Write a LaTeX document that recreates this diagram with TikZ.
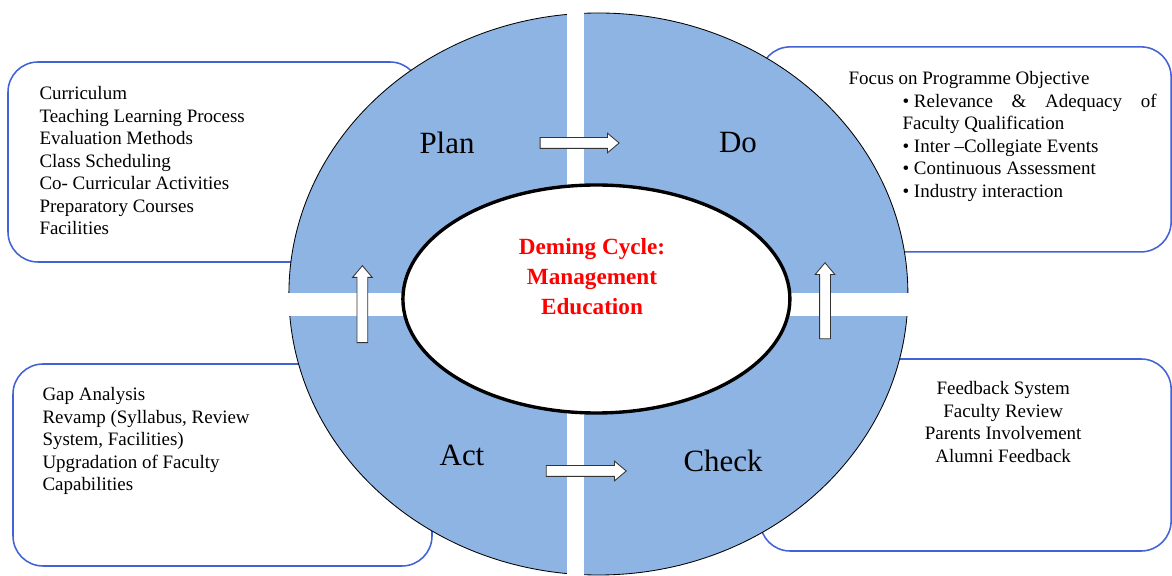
\documentclass[tikz,border=0pt]{standalone}
\usepackage{fontspec}
\setmainfont{Liberation Serif}
\usetikzlibrary{positioning, shapes.geometric, shapes.arrows}
\definecolor{ringBlue}{RGB}{142,180,227}
\definecolor{boxBlue}{RGB}{66,98,214}
\definecolor{titleRed}{RGB}{255,0,0}

\begin{document}
\begin{tikzpicture}[
  notebox/.style={draw=boxBlue, line width=1.1pt, fill=white, rounded corners=.75cm},
  notetext/.style={inner sep=0pt, align=left, font=\fontsize{13.5}{16}\selectfont},
  phaselabel/.style={font=\fontsize{22}{26}\selectfont},
  flow/.style={single arrow, draw=black!80, fill=white, line width=.6pt,
               inner xsep=0pt, inner ysep=.125cm, single arrow head extend=.11cm,
               single arrow tip angle=80},
]
  \useasboundingbox (0,0) rectangle (29.3,14.375);

  % note boxes, partly hidden by the ring
  \node[notebox, minimum width=10.3cm, minimum height=5cm] (planbox) at (5.35,10.325) {};
  \node[notebox, minimum width=10.275cm, minimum height=5.125cm] (dobox) at (24.14,10.64) {};
  \node[notebox, minimum width=10.475cm, minimum height=5.05cm] (actbox) at (5.5625,2.75) {};
  \node[notebox, minimum width=10.275cm, minimum height=4.8cm] (checkbox) at (24.14,3.0) {};

  % the ring, cut into four quarters
  \node[ellipse, draw, line width=.6pt, fill=ringBlue,
        minimum width=15.475cm, minimum height=14.05cm] (ring) at (14.96,7.025) {};
  \fill[white] (14.175,-.1) rectangle (14.6,14.3);
  \fill[white] (7.0,6.475) rectangle (22.9,7.05);

  % centre
  \node[ellipse, draw, line width=2.4pt, fill=white,
        minimum width=9.675cm, minimum height=5.7cm] (hub) at (14.91,6.9) {};
  \node[font=\bfseries\fontsize{16.5}{21.3}\selectfont, text=titleRed, align=center]
    (title) at (14.8,7.45) {Deming Cycle:\\Management\\Education};

  % quarter labels
  \node[phaselabel] (plan) at (11.175,10.8) {Plan};
  \node[phaselabel] (do) at (18.45,10.8) {Do};
  \node[phaselabel] (act) at (11.55,3.0) {Act};
  \node[phaselabel] (check) at (18.075,2.85) {Check};

  % block arrows
  \node[flow, minimum height=1.975cm] (plantodo) at (14.41,10.8) {};
  \node[flow, minimum height=2cm] (acttocheck) at (14.575,2.6) {};
  \node[flow, minimum height=1.925cm, rotate=90] (acttoplan) at (9.06,6.69) {};
  \node[flow, minimum height=1.9cm, rotate=90] (checktodo) at (20.625,6.775) {};

  % box texts
  \node[notetext, below right=.625cm and .8cm of planbox.north west] (plannotes) {%
    Curriculum\\
    Teaching Learning Process\\
    Evaluation Methods\\
    Class Scheduling\\
    Co- Curricular Activities\\
    Preparatory Courses\\
    Facilities};
  \node[notetext, below right=.625cm and 2.225cm of dobox.north west] (donotes) {%
    Focus on Programme Objective\\
    \hspace*{1.35cm}\parbox[t]{6.35cm}{%
      \textbullet\ Relevance\hfill\&\hfill Adequacy\hfill of\\
      Faculty Qualification\\
      \textbullet\ Inter --Collegiate Events\\
      \textbullet\ Continuous Assessment\\
      \textbullet\ Industry interaction}};
  \node[notetext, below right=.6cm and .75cm of actbox.north west] (actnotes) {%
    Gap Analysis\\
    Revamp (Syllabus, Review\\
    System, Facilities)\\
    Upgradation of Faculty\\
    Capabilities};
  \node[notetext, align=center, below=.575cm of checkbox.north, xshift=.94cm] (checknotes) {%
    Feedback System\\
    Faculty Review\\
    Parents Involvement\\
    Alumni Feedback};
\end{tikzpicture}
\end{document}
